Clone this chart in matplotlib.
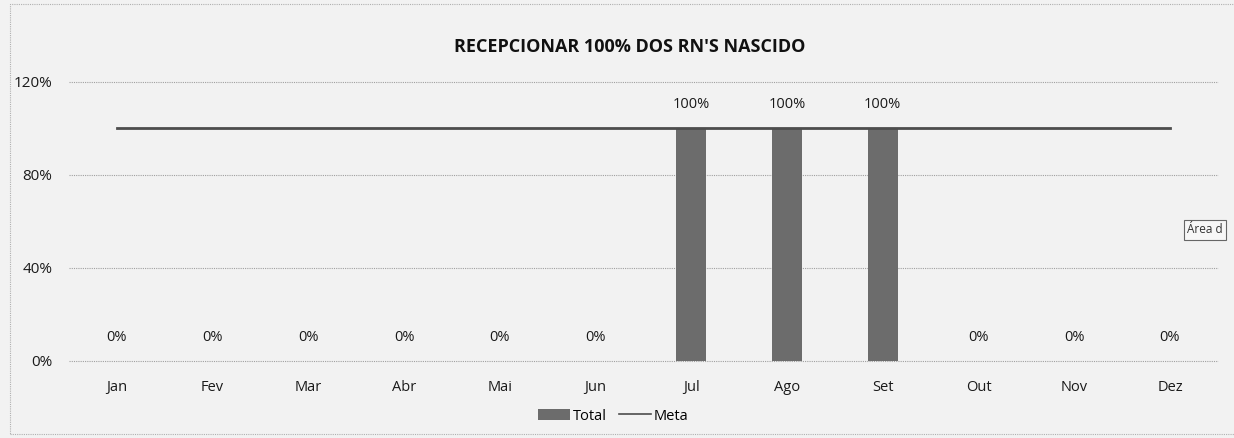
import numpy as np
from matplotlib import pyplot as plt
from matplotlib.patches import Rectangle

months = ['Jan', 'Fev', 'Mar', 'Abr', 'Mai', 'Jun', 'Jul', 'Ago', 'Set', 'Out', 'Nov', 'Dez']
total = [0, 0, 0, 0, 0, 0, 100, 100, 100, 0, 0, 0]
meta = [100] * 12

plt.rcParams['font.family'] = ['Open Sans', 'DejaVu Sans']

fig = plt.figure(figsize=(12.34, 4.38), dpi=100)
fig.patch.set_facecolor('#f2f2f2')
ax = fig.add_axes([0.0559, 0.1758, 0.931, 0.637])
ax.set_facecolor('#f2f2f2')

x = np.arange(len(months))
ax.bar(x, total, width=0.31, color='#6c6c6c', label='Total', zorder=2)
ax.plot(x, meta, color='#4d4d4d', lw=2, label='Meta', zorder=3)

for xi, v in zip(x, total):
    ax.annotate(f'{v}%', (xi, v), xytext=(0, 17), textcoords='offset points',
                ha='center', va='center', fontsize=10.5, color='#1a1a1a')

ax.set_xlim(-0.5, len(months) - 0.5)
ax.set_ylim(0, 120)
ax.set_yticks([0, 40, 80, 120])
ax.set_yticklabels(['0%', '40%', '80%', '120%'], fontsize=11, color='#1a1a1a')
ax.set_xticks(x)
ax.set_xticklabels(months, fontsize=10.5, color='#1a1a1a')
ax.tick_params(axis='both', length=0)
ax.tick_params(axis='y', pad=12)
ax.tick_params(axis='x', pad=14)
ax.grid(axis='y', color='#a0a0a0', lw=0.8, ls=(0, (1, 1)), zorder=0)
for gl in ax.get_ygridlines():
    gl.set_clip_on(False)
for s in ax.spines.values():
    s.set_visible(False)

fig.text(0.51, 0.893, "RECEPCIONAR 100% DOS RN'S NASCIDO", ha='center', va='center',
         fontsize=13, fontweight='bold', color='#111111')

# legend: Total first, then Meta
handles, labels = ax.get_legend_handles_labels()
order = [labels.index('Total'), labels.index('Meta')]
leg = fig.legend([handles[i] for i in order], [labels[i] for i in order],
                 loc='center', bbox_to_anchor=(0.497, 0.05), ncol=2, frameon=False,
                 fontsize=10.5, handlelength=2.2, handleheight=0.7, columnspacing=0.8,
                 handletextpad=0.2)
leg.get_lines()[0].set_linewidth(1.2)

fig.text(0.962, 0.475, 'Área d', fontsize=8.5, ha='left', va='center', color='#333333',
         bbox=dict(boxstyle='square,pad=0.3', fc='#f7f7f7', ec='#666666', lw=0.8))

fig.patches.append(Rectangle((0.008, 0.01), 1.2, 0.98, transform=fig.transFigure,
                             fill=False, ec='#b0b0b0', lw=0.8, ls=(0, (1, 1))))

plt.savefig('out.png', dpi=100, facecolor=fig.get_facecolor())
